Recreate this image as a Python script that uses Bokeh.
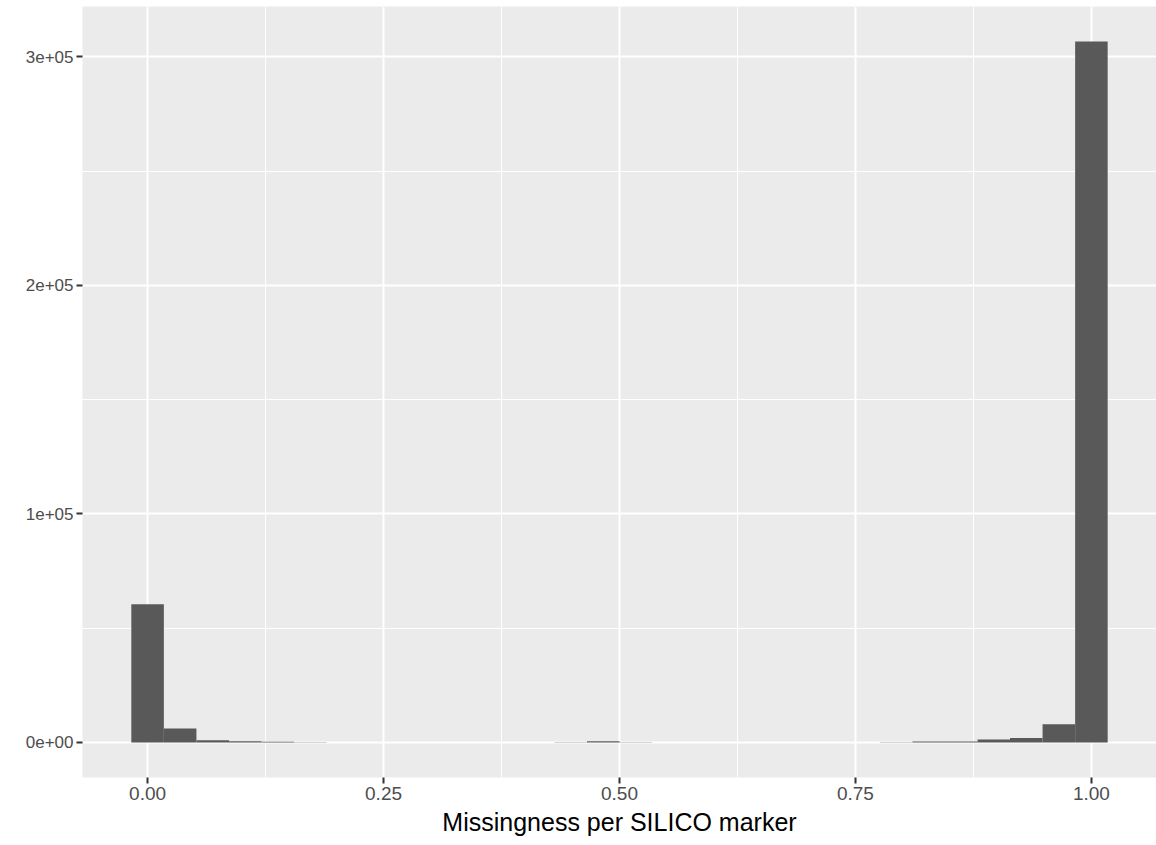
from bokeh.plotting import figure
from bokeh.models import FixedTicker, Range1d, ColumnDataSource
from bokeh.embed import file_html
from bokeh.resources import INLINE

# Histogram data (30 bins, width 1/29, centred on 0 ... 1)
bin_centers = [0.0000, 0.0345, 0.0690, 0.1034, 0.1379, 0.1724, 0.2069, 0.2414,
               0.2759, 0.3103, 0.3448, 0.3793, 0.4138, 0.4483, 0.4828, 0.5172,
               0.5517, 0.5862, 0.6207, 0.6552, 0.6897, 0.7241, 0.7586, 0.7931,
               0.8276, 0.8621, 0.8966, 0.9310, 0.9655, 1.0000]
counts = [60500, 6100, 1000, 500, 300, 60, 30, 20,
          20, 15, 15, 15, 20, 40, 500, 40,
          20, 15, 15, 15, 20, 20, 30, 50,
          400, 450, 1300, 1900, 8000, 306700]
bin_width = 1 / 29

x_ticks = [0.0, 0.25, 0.5, 0.75, 1.0]
x_labels = ["0.00", "0.25", "0.50", "0.75", "1.00"]
y_ticks = [0, 100000, 200000, 300000]
y_labels = ["0e+00", "1e+05", "2e+05", "3e+05"]
x_title = "Missingness per SILICO marker"

src = ColumnDataSource(dict(
    left=[c - bin_width / 2 for c in bin_centers],
    right=[c + bin_width / 2 for c in bin_centers],
    top=counts,
    bottom=[0] * len(counts),
))

lo = bin_centers[0] - bin_width / 2
hi = bin_centers[-1] + bin_width / 2
xpad = (hi - lo) * 0.05
ymax = max(counts)
ypad = ymax * 0.05

p = figure(width=1156, height=845, output_backend="svg", toolbar_location=None,
           x_range=Range1d(lo - xpad, hi + xpad), y_range=Range1d(-ypad, ymax + ypad),
           min_border_left=82, min_border_right=0, min_border_top=6, min_border_bottom=68)
p.background_fill_color = "#EBEBEB"
p.border_fill_color = "white"
p.outline_line_color = None

p.quad(left="left", right="right", top="top", bottom="bottom", source=src,
       fill_color="#595959", line_color=None)

p.xaxis.ticker = FixedTicker(ticks=x_ticks, minor_ticks=[0.125, 0.375, 0.625, 0.875])
p.yaxis.ticker = FixedTicker(ticks=y_ticks, minor_ticks=[50000, 150000, 250000])
p.xaxis.major_label_overrides = {t: l for t, l in zip(x_ticks, x_labels)}
p.yaxis.major_label_overrides = {t: l for t, l in zip(y_ticks, y_labels)}

for ax in (p.xaxis, p.yaxis):
    ax.axis_line_color = None
    ax.major_tick_line_color = "#333333"
    ax.major_tick_line_width = 2
    ax.major_tick_out = 6
    ax.major_tick_in = 0
    ax.minor_tick_line_color = None
    ax.major_label_text_font = "Liberation Sans"
    ax.major_label_text_color = "#4D4D4D"
    ax.major_label_standoff = 3
p.xaxis.major_label_text_font_size = "19px"
p.yaxis.major_label_text_font_size = "17px"

p.xaxis.axis_label = x_title
p.xaxis.axis_label_text_font = "Liberation Sans"
p.xaxis.axis_label_text_font_size = "25px"
p.xaxis.axis_label_text_font_style = "normal"
p.xaxis.axis_label_text_color = "black"
p.xaxis.axis_label_standoff = 5

p.grid.grid_line_color = "white"
p.grid.grid_line_width = 2
p.grid.minor_grid_line_color = "white"
p.grid.minor_grid_line_width = 1

open("out.html", "w").write(file_html(p, INLINE))
